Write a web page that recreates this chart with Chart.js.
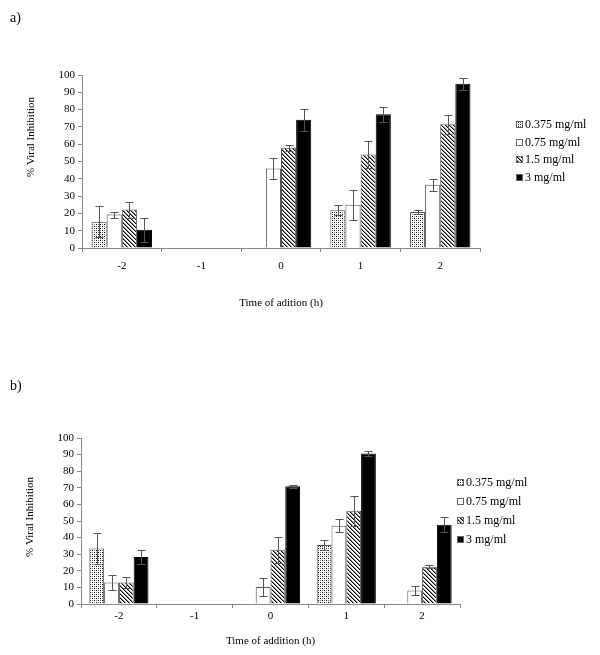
<!DOCTYPE html>
<html>
<head>
<meta charset="utf-8">
<script src="https://cdn.jsdelivr.net/npm/chart.js@4.4.1/dist/chart.umd.min.js"></script>
<style>
html,body{margin:0;padding:0;background:#fff;width:600px;height:655px;overflow:hidden;}
.panel{position:absolute;left:0;width:600px;}
#pa{top:0;height:320px;}
#pb{top:330px;height:325px;}
.lbl{position:absolute;left:10px;font-family:"Liberation Serif","Times New Roman",serif;font-size:14px;line-height:16px;color:#000;}
</style>
</head>
<body>
<div class="panel" id="pa"><canvas id="ca" width="600" height="320"></canvas></div>
<div class="panel" id="pb"><canvas id="cb" width="600" height="325"></canvas></div>
<div class="lbl" style="top:10px">a)</div>
<div class="lbl" style="top:378px">b)</div>
<script>
// ---- data ----
const categories = ['-2', '-1', '0', '1', '2'];
const seriesLabels = ['0.375 mg/ml', '0.75 mg/ml', '1.5 mg/ml', '3 mg/ml'];
const yTicks = [0, 10, 20, 30, 40, 50, 60, 70, 80, 90, 100];

// panel a)
const a_0375 = [15.2, null, null, 21.8, 20.8];
const a_0375_err = [9.1, null, null, 2.9, 1.4];
const a_075 = [19.3, null, 45.9, 25.0, 36.6];
const a_075_err = [1.7, null, 6.3, 8.7, 3.4];
const a_15 = [22.2, null, 58.0, 54.0, 71.5];
const a_15_err = [4.6, null, 1.7, 7.7, 5.5];
const a_3 = [10.6, null, 74.2, 77.3, 95.0];
const a_3_err = [6.9, null, 6.3, 4.2, 3.5];

// panel b)
const b_0375 = [33.5, null, null, 35.5, null];
const b_0375_err = [9.5, null, null, 3.1, null];
const b_075 = [13.0, null, 10.2, 47.2, 8.2];
const b_075_err = [4.5, null, 5.5, 4.0, 2.6];
const b_15 = [13.0, null, 32.7, 56.2, 22.5];
const b_15_err = [3.5, null, 7.7, 9.1, 0.8];
const b_3 = [28.3, null, 70.9, 90.6, 47.8];
const b_3_err = [4.4, null, 1.0, 1.6, 4.6];

const xTitleA = 'Time of adition (h)';
const xTitleB = 'Time of addition (h)';
const yTitle = '% Viral Inhibition';

// ---- styles ----
const FONT = '"Liberation Serif","Times New Roman",serif';
Chart.defaults.font.family = FONT;
Chart.defaults.font.size = 11;
Chart.defaults.color = '#000';

function makePatterns(ctx) {
  const dot = document.createElement('canvas'); dot.width = 4; dot.height = 4;
  let g = dot.getContext('2d');
  g.fillStyle = '#fff'; g.fillRect(0, 0, 4, 4);
  g.fillStyle = '#000'; g.fillRect(0, 0, 1, 1); g.fillRect(2, 2, 1, 1);
  g.fillStyle = '#777'; g.fillRect(2, 0, 1, 1); g.fillRect(0, 2, 1, 1);
  const hat = document.createElement('canvas'); hat.width = 4; hat.height = 4;
  g = hat.getContext('2d');
  g.fillStyle = '#fff'; g.fillRect(0, 0, 4, 4);
  g.fillStyle = '#000';
  for (let i = 0; i < 4; i++) g.fillRect(i, i, 1, 1);
  g.fillStyle = '#888';
  for (let i = 0; i < 4; i++) g.fillRect((i + 1) % 4, i, 1, 1);
  return [ctx.createPattern(dot, 'repeat'), '#ffffff', ctx.createPattern(hat, 'repeat'), '#000000'];
}

const errorBars = {
  id: 'errorBars',
  afterDatasetsDraw(chart, args, o) {
    const ctx = chart.ctx, ys = chart.scales.y;
    ctx.save();
    ctx.strokeStyle = o.color; ctx.lineWidth = 1;
    chart.data.datasets.forEach((ds, i) => {
      const meta = chart.getDatasetMeta(i);
      meta.data.forEach((bar, j) => {
        const v = ds.data[j], e = ds.errors[j];
        if (v == null || e == null) return;
        const yt = Math.round(ys.getPixelForValue(v + e)) + 0.5;
        const yb = Math.round(ys.getPixelForValue(v - e)) + 0.5;
        const x = Math.round(bar.x) + 0.5;
        ctx.beginPath();
        ctx.moveTo(x, yt); ctx.lineTo(x, yb);
        ctx.moveTo(x - o.cap, yt); ctx.lineTo(x + o.cap, yt);
        ctx.moveTo(x - o.cap, yb); ctx.lineTo(x + o.cap, yb);
        ctx.stroke();
      });
    });
    ctx.restore();
  }
};

const sideLegend = {
  id: 'sideLegend',
  afterDraw(chart, args, o) {
    const ctx = chart.ctx;
    ctx.save();
    ctx.font = '12px ' + FONT;
    ctx.textBaseline = 'middle';
    chart.data.datasets.forEach((ds, i) => {
      const cy = Math.round(o.y + i * o.dy);
      ctx.fillStyle = ds.backgroundColor;
      ctx.fillRect(o.x, cy - 4, 7, 7);
      ctx.strokeStyle = '#666'; ctx.lineWidth = 1;
      ctx.strokeRect(o.x + 0.5, cy - 3.5, 6, 6);
      ctx.fillStyle = '#000';
      ctx.fillText(ds.label, o.x + 9, cy);
    });
    ctx.restore();
  }
};

const yTitlePlugin = {
  id: 'yTitlePlugin',
  afterDraw(chart, args, o) {
    const ctx = chart.ctx;
    ctx.save();
    ctx.font = '11px ' + FONT;
    ctx.fillStyle = '#000';
    ctx.textAlign = 'center'; ctx.textBaseline = 'middle';
    ctx.translate(o.x, o.y); ctx.rotate(-Math.PI / 2);
    ctx.fillText(o.text, 0, 0);
    ctx.restore();
  }
};

function build(id, series, errs, xTitle, cfg) {
  const canvas = document.getElementById(id);
  const ctx = canvas.getContext('2d');
  const fills = makePatterns(ctx);
  const datasets = series.map((d, i) => ({
    label: seriesLabels[i],
    data: d,
    errors: errs[i],
    backgroundColor: fills[i],
    borderColor: i === 3 ? '#000' : '#555',
    borderWidth: 1,
    categoryPercentage: cfg.catPct,
    barPercentage: 1.0
  }));
  return new Chart(ctx, {
    type: 'bar',
    data: { labels: categories, datasets },
    plugins: [errorBars, sideLegend, yTitlePlugin],
    options: {
      responsive: false,
      animation: false,
      devicePixelRatio: 1,
      layout: { padding: cfg.padding },
      plugins: {
        legend: { display: false },
        tooltip: { enabled: false },
        errorBars: { color: '#555', cap: 4 },
        sideLegend: cfg.legend,
        yTitlePlugin: { text: yTitle, x: cfg.yTitleX, y: cfg.yTitleY }
      },
      scales: {
        x: {
          afterFit: s => { s.height = cfg.xHeight; },
          grid: { offset: true, drawOnChartArea: false, drawTicks: true, tickLength: 4, color: '#888' },
          border: { color: '#888', width: 1 },
          ticks: { padding: cfg.xTickPad, font: { size: 11 }, color: '#000' },
          title: { display: true, text: xTitle, font: { size: 11 }, color: '#000', padding: { top: 0, bottom: cfg.xTitlePad } }
        },
        y: {
          min: 0, max: 100,
          afterFit: s => { s.width = cfg.yWidth; },
          afterBuildTicks: s => { s.ticks = yTicks.map(v => ({ value: v })); },
          grid: { drawOnChartArea: false, drawTicks: true, tickLength: 4, color: '#888' },
          border: { color: '#888', width: 1 },
          ticks: { padding: 3, font: { size: 11 }, color: '#000' }
        }
      }
    }
  });
}

build('ca', [a_0375, a_075, a_15, a_3], [a_0375_err, a_075_err, a_15_err, a_3_err], xTitleA, {
  catPct: 0.76,
  padding: { left: 0, right: 120, top: 75, bottom: 10 },
  xHeight: 62, xTickPad: 8, xTitlePad: 0, yWidth: 82,
  legend: { x: 516, y: 125, dy: 17.7 },
  yTitleX: 31, yTitleY: 137
});

build('cb', [b_0375, b_075, b_15, b_3], [b_0375_err, b_075_err, b_15_err, b_3_err], xTitleB, {
  catPct: 0.78,
  padding: { left: 0, right: 140, top: 108, bottom: 6 },
  xHeight: 45, xTickPad: 2, xTitlePad: 1, yWidth: 81,
  legend: { x: 457, y: 153, dy: 19 },
  yTitleX: 30, yTitleY: 187
});
</script>
</body>
</html>
